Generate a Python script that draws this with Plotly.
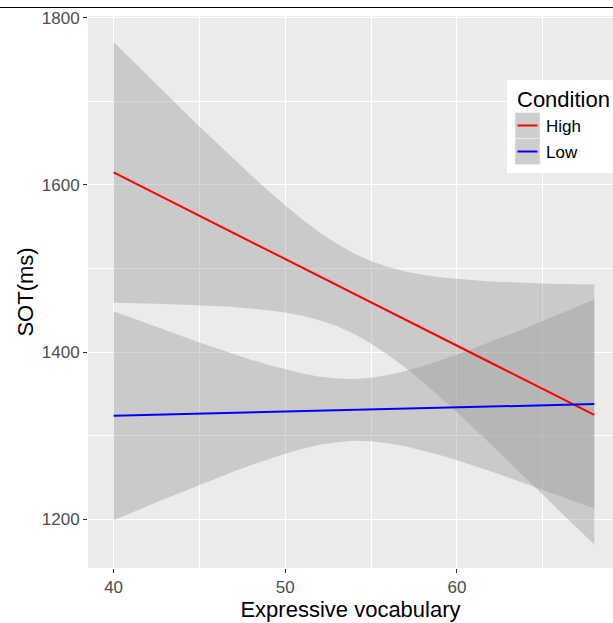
import plotly.graph_objects as go

# ---------------- data ----------------
vocab = [40, 41, 42, 43, 44, 45, 46, 47, 48, 49, 50, 51, 52, 53, 54,
         55, 56, 57, 58, 59, 60, 61, 62, 63, 64, 65, 66, 67, 68]

high_fit = [1615, 1604.6, 1594.3, 1583.9, 1573.6, 1563.2, 1552.9, 1542.5, 1532.1, 1521.8,
            1511.4, 1501.1, 1490.7, 1480.4, 1470.0, 1459.6, 1449.3, 1438.9, 1428.6, 1418.2,
            1407.9, 1397.5, 1387.1, 1376.8, 1366.4, 1356.1, 1345.7, 1335.4, 1325.0]
high_upper = [1771, 1750.5, 1730.3, 1710, 1690, 1670, 1650.4, 1630.9, 1611.8, 1593.3,
              1575.4, 1558.7, 1543.2, 1529.6, 1518, 1508.8, 1501.8, 1496.5, 1492.6, 1489.7,
              1487.6, 1485.9, 1484.6, 1483.6, 1482.8, 1482.2, 1481.7, 1481.3, 1481]
high_lower = [1459, 1458.7, 1458.3, 1457.8, 1457.2, 1456.4, 1455.4, 1454.1, 1452.4, 1450.3,
              1447.4, 1443.5, 1438.2, 1431.2, 1422, 1410.4, 1396.8, 1381.3, 1364.6, 1346.7,
              1328.2, 1309.1, 1289.6, 1270, 1250, 1230, 1209.7, 1189.5, 1170]

low_fit = [1324, 1324.5, 1325, 1325.5, 1326, 1326.5, 1327, 1327.5, 1328, 1328.5,
           1329, 1329.5, 1330, 1330.5, 1331, 1331.5, 1332, 1332.5, 1333, 1333.5,
           1334, 1334.5, 1335, 1335.5, 1336, 1336.5, 1337, 1337.5, 1338]
low_upper = [1449, 1441.4, 1433.8, 1426.3, 1419, 1411.7, 1404.6, 1397.7, 1391.1, 1385,
             1379.3, 1374.5, 1370.7, 1368.5, 1368, 1369.5, 1372.7, 1377.5, 1383.3, 1390,
             1397.1, 1404.7, 1412.6, 1420.7, 1429, 1437.3, 1445.8, 1454.4, 1463]
low_lower = [1199, 1207.6, 1216.2, 1224.7, 1233, 1241.3, 1249.4, 1257.3, 1264.9, 1272,
             1278.7, 1284.5, 1289.3, 1292.5, 1294, 1293.5, 1291.3, 1287.5, 1282.7, 1277,
             1270.9, 1264.3, 1257.4, 1250.3, 1243, 1235.7, 1228.2, 1220.6, 1213]

x_ticks = [40, 50, 60]
x_minor = [45, 55, 65]
y_ticks = [1200, 1400, 1600, 1800]
y_minor = [1300, 1500, 1700]

conditions = ["High", "Low"]
colors = {"High": "#FF0000", "Low": "#0000FF"}
series = {
    "High": (high_fit, high_lower, high_upper),
    "Low": (low_fit, low_lower, low_upper),
}

FONT = "Liberation Sans, Arial, sans-serif"
RIBBON = "rgba(153,153,153,0.4)"

fig = go.Figure()

for cond in conditions:
    fit, lo, up = series[cond]
    fig.add_trace(go.Scatter(
        x=vocab + vocab[::-1], y=up + lo[::-1],
        mode="lines", line=dict(width=0), fill="toself", fillcolor=RIBBON,
        hoverinfo="skip", showlegend=False))

for cond in conditions:
    fit, lo, up = series[cond]
    fig.add_trace(go.Scatter(
        x=vocab, y=fit, mode="lines", name=cond,
        line=dict(color=colors[cond], width=2), showlegend=False))

W, H = 613, 623
L, R, T, B = 88, 0, 16, 55
pw, ph = W - L - R, H - T - B

def px_x(x):
    return (x - L) / pw

def px_y(y):
    return (H - B - y) / ph

shapes = []
# top rule
shapes.append(dict(type="line", xref="paper", yref="paper",
                   x0=px_x(0), x1=px_x(W), y0=px_y(7.5), y1=px_y(7.5),
                   line=dict(color="black", width=1)))
# legend box
shapes.append(dict(type="rect", xref="paper", yref="paper",
                   x0=px_x(507), x1=px_x(W + 5), y0=px_y(173), y1=px_y(80),
                   fillcolor="white", line=dict(width=0), layer="above"))
key_rows = [(112.5, 138.5), (138.5, 164.5)]
annotations = []
for cond, (k0, k1) in zip(conditions, key_rows):
    shapes.append(dict(type="rect", xref="paper", yref="paper",
                       x0=px_x(515), x1=px_x(540), y0=px_y(k1), y1=px_y(k0),
                       fillcolor="#CECECE", line=dict(color="#F2F2F2", width=0.5),
                       layer="above"))
    ym = (k0 + k1) / 2
    shapes.append(dict(type="line", xref="paper", yref="paper",
                       x0=px_x(517.5), x1=px_x(537.5), y0=px_y(ym), y1=px_y(ym),
                       line=dict(color=colors[cond], width=2), layer="above"))
    annotations.append(dict(text=cond, xref="paper", yref="paper",
                            x=px_x(544), y=px_y(ym + 0.5), xanchor="left", yanchor="middle",
                            showarrow=False, font=dict(family=FONT, size=17, color="black")))
annotations.append(dict(text="Condition", xref="paper", yref="paper",
                        x=px_x(515), y=px_y(99), xanchor="left", yanchor="middle",
                        showarrow=False, font=dict(family=FONT, size=22, color="black")))

fig.update_layout(
    width=W, height=H,
    margin=dict(l=L, r=R, t=T, b=B),
    paper_bgcolor="white", plot_bgcolor="#EBEBEB",
    font=dict(family=FONT),
    shapes=shapes, annotations=annotations,
    showlegend=False,
    xaxis=dict(
        range=[38.51, 69.09], tickvals=x_ticks, ticktext=[str(v) for v in x_ticks],
        showgrid=True, gridcolor="white", gridwidth=1.1, zeroline=False, showline=False,
        ticks="outside", ticklen=4, tickwidth=1, tickcolor="#333333",
        tickfont=dict(family=FONT, size=17, color="#4D4D4D"),
        minor=dict(tickvals=x_minor, showgrid=True, gridcolor="white", gridwidth=0.55),
        title=dict(text="Expressive vocabulary", font=dict(family=FONT, size=22, color="black"),
                   standoff=3),
        automargin=False,
    ),
    yaxis=dict(
        range=[1142, 1802], tickvals=y_ticks, ticktext=[str(v) for v in y_ticks],
        showgrid=True, gridcolor="white", gridwidth=1.1, zeroline=False, showline=False,
        ticks="outside", ticklen=4, tickwidth=1, tickcolor="#333333",
        tickfont=dict(family=FONT, size=17, color="#4D4D4D"),
        minor=dict(tickvals=y_minor, showgrid=True, gridcolor="white", gridwidth=0.55),
        title=dict(text="SOT(ms)", font=dict(family=FONT, size=22, color="black"),
                   standoff=2),
        automargin=False,
    ),
)

fig.write_html("out.html")
